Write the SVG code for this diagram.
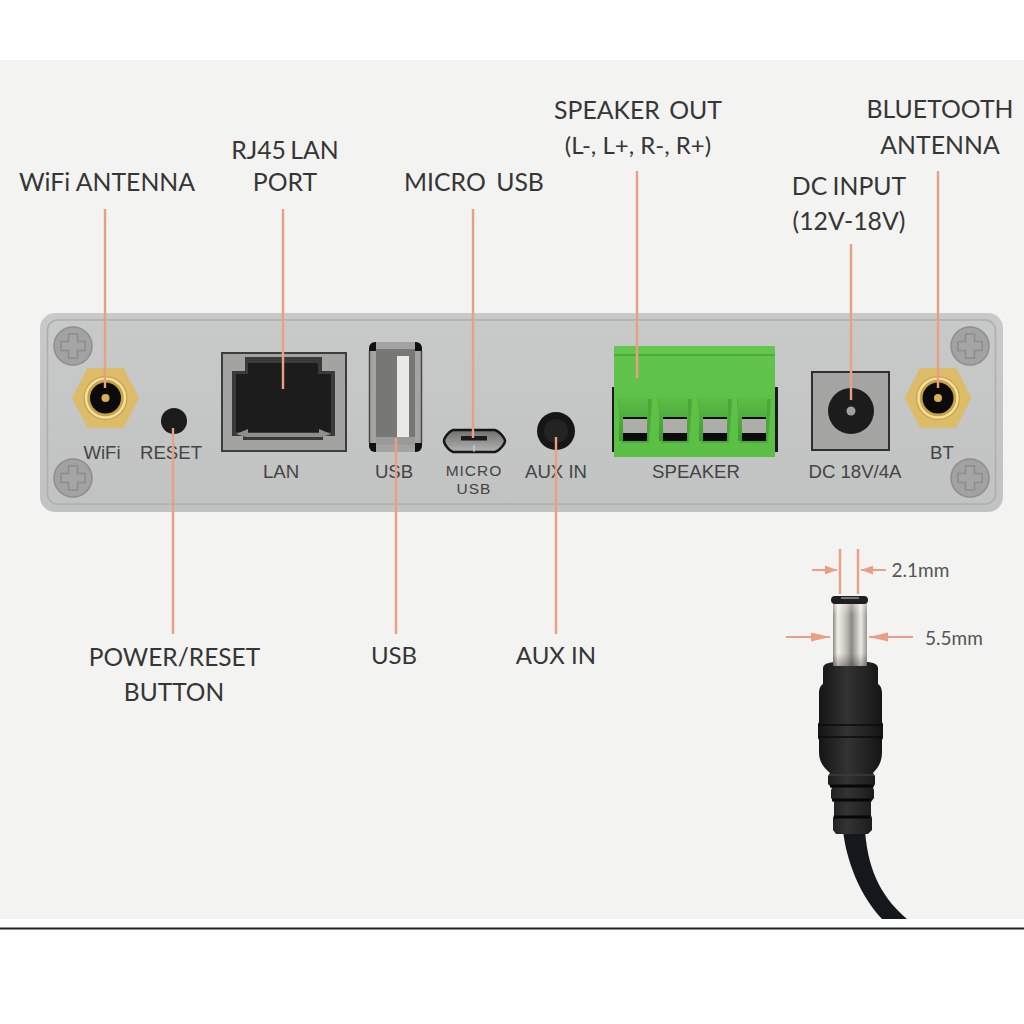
<svg xmlns="http://www.w3.org/2000/svg" width="1024" height="1024" viewBox="0 0 1024 1024">
<style>
text{font-family:"Lato","Liberation Sans",sans-serif}
.call{font-size:24.8px;fill:#363636;text-anchor:middle}
.port{font-family:"Liberation Sans",sans-serif;font-size:18.6px;fill:#444;text-anchor:middle}
.small{font-size:15.5px;letter-spacing:1px}
.lead{stroke:#ea9f84;stroke-width:2.4;fill:none}
.dim{font-size:19px;fill:#555}
</style>
<defs>
<linearGradient id="plate" x1="0" y1="0" x2="0" y2="1"><stop offset="0" stop-color="#c8c9c9"/><stop offset="1" stop-color="#c1c2c2"/></linearGradient>
<linearGradient id="green" x1="0" y1="0" x2="0" y2="1"><stop offset="0" stop-color="#62c44d"/><stop offset="1" stop-color="#5abf44"/></linearGradient>
<linearGradient id="pocketFill" x1="0" y1="0" x2="0" y2="1"><stop offset="0" stop-color="#5cbf47"/><stop offset="1" stop-color="#3f9a30"/></linearGradient>
<linearGradient id="metal" x1="0" y1="0" x2="1" y2="0"><stop offset="0" stop-color="#8f8a82"/><stop offset=".14" stop-color="#f1f0ec"/><stop offset=".38" stop-color="#c4c0b8"/><stop offset=".55" stop-color="#8d8982"/><stop offset=".82" stop-color="#ecebe7"/><stop offset="1" stop-color="#99958e"/></linearGradient>
<linearGradient id="metalShade" x1="0" y1="0" x2="0" y2="1"><stop offset="0" stop-color="#fff" stop-opacity=".35"/><stop offset=".2" stop-color="#fff" stop-opacity="0"/><stop offset=".8" stop-color="#000" stop-opacity="0"/><stop offset="1" stop-color="#000" stop-opacity=".3"/></linearGradient>
<linearGradient id="boot" x1="0" y1="0" x2="1" y2="0"><stop offset="0" stop-color="#141414"/><stop offset=".45" stop-color="#333"/><stop offset="1" stop-color="#131313"/></linearGradient>
<linearGradient id="microFill" x1="0" y1="0" x2="0" y2="1"><stop offset="0" stop-color="#6f6f6d"/><stop offset="1" stop-color="#b3b3b1"/></linearGradient>
<marker id="tipS" markerWidth="12" markerHeight="10" refX="12" refY="5" orient="auto" markerUnits="userSpaceOnUse"><path d="M0 .5L12 5L0 9.500Z" fill="#ea9f84"/></marker>
<marker id="tipL" markerWidth="19" markerHeight="10" refX="19" refY="5" orient="auto" markerUnits="userSpaceOnUse"><path d="M0 .5L19 5L0 9.500Z" fill="#ea9f84"/></marker>
<g id="screw"><circle r="19" fill="#a1a2a1" stroke="#8d8e8d" stroke-width="1.500"/><path d="M-4.500-12h9v7.500h7.500v9h-7.500v7.500h-9v-7.500h-7.500v-9h7.500z" fill="#a4a5a4" stroke="#8b8c8b" stroke-width="1.500"/></g>
<g id="sma"><path d="M-33.500 0L-18-30H18L33.500 0L18 30H-18Z" fill="#dcbc68"/><circle r="22" fill="#c8a24a"/><circle r="19.500" fill="none" stroke="#f3e09c" stroke-width="2.500"/><circle r="15.500" fill="#0b0b0b"/><circle r="4" fill="#dcb050"/></g>
<g id="pocket"><path d="M-17 0H17L14 44H-14Z" transform="translate(0 2)" fill="#4aa838"/><path d="M-16 0H13V44H-16Z" fill="url(#pocketFill)"/><rect x="-12" y="20" width="24" height="24" fill="#0b0b0b"/><rect x="-12" y="22" width="24" height="14" fill="#adadaa"/></g>
</defs>

<rect width="1024" height="1024" fill="#fff"/>
<rect y="60" width="1024" height="859" fill="#f3f3f2"/>
<path d="M0 928.500H1024" stroke="#222" stroke-width="2"/>

<g id="panel">
<rect x="40" y="313" width="963" height="199" rx="15" fill="url(#plate)"/>
<rect x="47.500" y="320" width="948" height="184" rx="10" fill="none" stroke="#adaeae" stroke-width="1.500"/>
</g>
<g id="screws">
<use href="#screw" x="73" y="346"/><use href="#screw" x="73" y="478"/>
<use href="#screw" x="970" y="346"/><use href="#screw" x="970" y="478"/>
</g>

<g id="wifi-port"><use href="#sma" x="105.500" y="398"/><text class="port" x="102" y="459">WiFi</text></g>
<g id="reset-button"><circle cx="174" cy="421" r="13" fill="#1b1b1b"/><text class="port" x="171" y="459">RESET</text></g>
<g id="lan-port">
<rect x="222" y="353" width="124" height="98" fill="#a3a3a1" stroke="#3d3d3d" stroke-width="2"/>
<path d="M245 357H322V371H335V436H323V440H243V436H232V371H245Z" fill="#3a3a3a"/>
<path d="M248 363H318V374H331V432H236V374H248Z" fill="#1c1c1c"/>
<path d="M236 434L248 429V433H319V429L331 434L322 437H246Z" fill="#8e8e8c"/>
<text class="port" x="281" y="478">LAN</text>
</g>
<g id="usb-port">
<rect x="369" y="342" width="53" height="110" rx="6" fill="#101010"/>
<rect x="376" y="342" width="39" height="110" fill="#a3a3a1"/>
<rect x="369" y="351" width="53" height="92" fill="#a3a3a1"/>
<path d="M369.500 351V443M421.500 351V443" stroke="#4a4a4a" stroke-width="1.500"/>
<rect x="376" y="349" width="39" height="96" fill="#777775"/>
<rect x="376" y="437" width="39" height="8" fill="#9a9a98"/>
<rect x="397" y="356" width="12" height="81" fill="#e9e9e5"/>
<text class="port" x="394" y="478">USB</text>
</g>
<g id="micro-usb-port">
<path d="M453 430H495C499 431 505 438 505 441C505 444 499 451 495 452H453C449 451 444 444 444 441C444 438 449 431 453 430Z" fill="url(#microFill)" stroke="#161616" stroke-width="2.500"/>
<rect x="461" y="436" width="26" height="4.500" fill="#1c1c1c"/>
<path d="M474 445V452" stroke="#e4e4e4" stroke-width="1"/>
<text class="port small" x="474" y="475.500">MICRO</text>
<text class="port small" x="474" y="493.500">USB</text>
</g>
<g id="aux-port"><circle cx="556" cy="431" r="19" fill="#161616"/><circle cx="556" cy="431" r="12" fill="#232323"/><text class="port" x="556" y="478">AUX IN</text></g>
<g id="speaker-terminal">
<rect x="612" y="387" width="166" height="65" fill="#1a1a1a"/>
<rect x="614" y="346" width="161" height="111" fill="url(#green)"/>
<rect x="614" y="346" width="161" height="9" fill="#63c74d"/>
<path d="M614 355H775" stroke="#47a335" stroke-width="1.500"/>
<use href="#pocket" x="635" y="397"/><use href="#pocket" x="675" y="397"/><use href="#pocket" x="715" y="397"/><use href="#pocket" x="754" y="397"/>
<text class="port" x="696" y="478">SPEAKER</text>
</g>
<g id="dc-jack">
<rect x="812" y="372" width="77" height="78" fill="#a4a4a2" stroke="#2f2f2f" stroke-width="2"/>
<circle cx="851" cy="411" r="23" fill="#1c1c1c"/><circle cx="851" cy="411" r="4.500" fill="#a0a09e"/>
<text class="port" x="855" y="478">DC 18V/4A</text>
</g>
<g id="bt-port"><use href="#sma" x="938" y="398"/><text class="port" x="942" y="459">BT</text></g>

<g id="connectors">
<path class="lead" d="M105 209V388"/>
<path class="lead" d="M283 209V389"/>
<path class="lead" d="M473 209V438"/>
<path class="lead" d="M637 171V378"/>
<path class="lead" d="M851 244V400"/>
<path class="lead" d="M938 171V388"/>
<path class="lead" d="M173 428V634"/>
<path class="lead" d="M396 438V634"/>
<path class="lead" d="M556 437V634"/>
</g>

<g id="labels">
<text class="call" x="107" y="191">WiFi ANTENNA</text>
<text class="call" x="285" y="159" style="word-spacing:-2px">RJ45 LAN</text><text class="call" x="285" y="191">PORT</text>
<text class="call" x="474" y="191" style="word-spacing:4px">MICRO USB</text>
<text class="call" x="638" y="119" style="word-spacing:3px">SPEAKER OUT</text><text class="call" x="638" y="154" style="font-size:24px">(L-, L+, R-, R+)</text>
<text class="call" x="849" y="195" style="word-spacing:-1px">DC INPUT</text><text class="call" x="849" y="230">(12V-18V)</text>
<text class="call" x="940" y="118">BLUETOOTH</text><text class="call" x="940" y="154">ANTENNA</text>
<text class="call" x="174.500" y="666" style="font-size:24.5px">POWER/RESET</text><text class="call" x="174" y="701" style="font-size:24.5px">BUTTON</text>
<text class="call" x="394" y="664" style="font-size:24px">USB</text>
<text class="call" x="556" y="664" style="font-size:24px">AUX IN</text>
</g>

<g id="dc-plug">
<path d="M843 830C846 860 860 896 882 919H907C885 900 868 875 865 830Z" fill="#14171c"/>
<path d="M823 668C823 663 832 661 851 661C870 661 878 663 878 668V684C881 686 882 689 882 694V722L883 724V738L882 740V752C882 762 878 768 873 773L875 776V784L873 788L874 790V798L871 802V815L872 818V830L868 834H836L833 830V818L834 815V802L831 798V790L832 788L828 784V776L830 773C824 768 819 762 819 752V740L818 738V724L819 722V694C819 689 820 686 823 684Z" fill="url(#boot)"/>
<path d="M818 725H883M818 737H883" stroke="#0b0b0b" stroke-width="1.500"/>
<path d="M829 775H874" stroke="#3d3d3d" stroke-width="1.500"/>
<path d="M830 786H873M832 800H871M834 817H870" stroke="#070707" stroke-width="3"/>
<rect x="833" y="603" width="34" height="63" fill="url(#metal)"/>
<rect x="833" y="603" width="34" height="63" fill="url(#metalShade)"/>
<rect x="831" y="596" width="37" height="8" rx="4" fill="#1f1f1f"/>
<rect x="841" y="597" width="18" height="2" fill="#777"/>
</g>

<g id="dimensions">
<path class="lead" d="M840 549V594M858 549V594"/>
<path class="lead" style="stroke-width:2" marker-end="url(#tipS)" d="M812 570H837"/>
<path class="lead" style="stroke-width:2" marker-end="url(#tipS)" d="M886 570H861"/>
<path class="lead" style="stroke-width:2" marker-end="url(#tipL)" d="M786 637H830"/>
<path class="lead" style="stroke-width:2" marker-end="url(#tipL)" d="M913 637H869"/>
<text class="dim" x="891.500" y="577">2.1mm</text>
<text class="dim" x="925" y="645">5.5mm</text>
</g>
</svg>
